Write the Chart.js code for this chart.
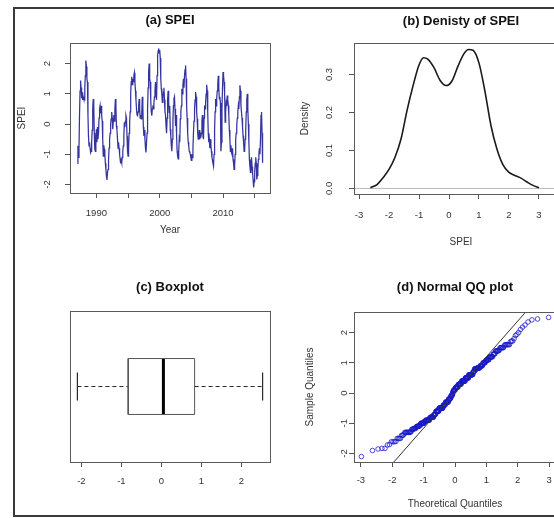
<!DOCTYPE html>
<html>
<head>
<meta charset="utf-8">
<script src="https://cdn.jsdelivr.net/npm/chart.js@4/dist/chart.umd.min.js"></script>
<style>
  html, body { margin: 0; padding: 0; background: #fff; }
  body { position: relative; width: 554px; height: 518px; overflow: hidden; }
  #frame { position: absolute; left: 13px; top: 7px; width: 620px; height: 510px;
           border: 2px solid #3a3a3a; box-sizing: border-box; }
  canvas { position: absolute; }
</style>
</head>
<body>
<div id="frame"></div>
<canvas id="cA" width="277" height="259" style="left:0px;top:0px"></canvas>
<canvas id="cB" width="320" height="259" style="left:277px;top:0px"></canvas>
<canvas id="cC" width="277" height="259" style="left:0px;top:259px"></canvas>
<canvas id="cD" width="320" height="259" style="left:277px;top:259px"></canvas>
<script>
// ---- data -------------------------------------------------------------
// Monthly SPEI, January 1987 onwards (one row per year)
const startYear = 1987;
const spei = [
  -1.30,-0.72,-1.10,-0.80, 0.30, 1.10, 1.44, 1.20, 0.85, 1.05, 0.80, 0.90,
   0.83, 0.80, 1.20, 1.60, 2.10, 1.90, 1.50, 1.39, 0.30,-0.40,-0.72,-0.60,
  -0.80,-0.94,-0.90,-0.61,-0.20, 0.50, 0.83, 0.60,-0.30,-0.83,-0.90,-0.60,
  -0.17,-0.60,-0.10,-0.50,-0.30, 0.20, 0.50, 0.61, 0.35, 0.60, 0.28, 0.10,
  -0.50,-1.06,-0.70,-0.83,-1.00,-1.30,-1.50,-1.72,-1.85,-1.61,-1.50,-1.20,
  -0.80,-0.50,-0.30, 0.00, 0.17, 0.40, 0.20,-0.17, 0.10, 0.30, 0.10, 0.50,
   0.83, 0.60,-0.06,-0.20,-0.50,-0.80,-0.60,-0.80,-1.00,-1.17,-1.30,-1.20,
  -1.28,-1.10,-0.90,-0.72,-0.40, 0.06,-0.10, 0.10, 0.28, 0.20,-0.40,-0.90,
  -1.06,-0.80,-0.30, 0.06, 0.40, 1.00, 1.40, 1.56, 1.30, 1.50, 1.40, 1.60,
   1.70, 1.40, 1.10, 0.80, 0.50, 0.30, 0.28, 0.40, 0.60, 0.83, 0.50, 0.20,
   0.30, 0.17, 0.40, 0.90, 0.60,-0.10,-0.39,-0.20,-0.50,-0.80,-0.94,-0.60,
  -0.30, 0.50, 1.20, 1.72, 2.00, 1.50, 1.39, 0.80, 0.40, 0.28, 0.50, 0.61,
   0.50, 0.70, 0.90, 1.10, 1.39, 1.00, 0.80, 1.60, 2.25, 2.42, 2.50, 2.35,
   2.45, 2.18, 1.50, 1.17, 1.00, 0.72, 0.90, 1.06, 1.20, 0.80, 0.40, 0.30,
  -0.06,-0.30, 0.20, 0.83, 1.10, 0.70, 0.39, 0.60,-0.17,-0.40,-0.72,-0.90,
  -0.50, 0.10, 0.60, 0.83, 0.90, 0.50,-0.06, 0.30,-0.40,-0.90,-1.06,-1.15,
  -0.90,-0.50,-0.60, 0.17, 0.40, 0.60, 1.17, 1.00, 1.30, 1.50, 1.20, 1.60,
   1.80, 1.94, 1.50, 0.61, 0.20,-0.30,-0.60,-0.72,-0.90,-0.94,-1.00,-1.11,
  -1.20,-1.00,-1.11,-0.80,-0.28, 0.10, 0.50, 0.80, 1.06, 0.90, 0.40, 0.17,
  -0.30,-0.50,-0.40,-0.20,-0.50,-0.35,-0.45,-0.30, 0.10, 0.30,-0.40,-0.50,
   0.20, 0.61, 0.50, 0.72, 1.00, 1.30, 1.10, 0.40,-0.30,-0.60,-0.50,-0.80,
  -0.50,-0.70,-0.90,-1.10,-1.20,-1.30,-1.39,-1.00,-0.20, 0.40, 0.83, 0.60,
   0.83, 1.10, 1.28, 1.60, 1.20, 0.83, 0.90, 0.70,-0.90,-0.60, 0.50, 1.20,
   1.72, 1.60, 1.39, 1.00, 0.06, 0.40, 0.70, 0.60, 0.94, 0.80, 0.61, 0.30,
  -0.20,-0.50,-0.90,-0.70,-0.94,-1.00,-0.80,-1.17,-1.30,-1.50,-1.35,-1.00,
  -0.50,-0.30,-0.06, 0.20, 0.40, 0.61, 0.50, 0.90, 1.28, 1.10, 0.60, 0.39,
   0.20,-0.10,-0.39,-0.60,-0.90,-0.83,-0.50,-0.20, 0.40, 0.80, 1.00, 0.50,
   0.00,-0.60,-1.17,-1.40,-1.60,-1.30,-1.10,-1.40,-1.61,-1.83,-2.10,-1.90,
  -1.61,-1.30,-1.10,-1.30,-1.83,-1.70,-1.50,-1.17,-1.00,-0.80,-1.00,-0.50,
   0.28, 0.40,-0.30,-1.28
];

// Kernel density estimate of SPEI
const densityX = [-2.62,-2.4,-2.2,-2.0,-1.8,-1.6,-1.4,-1.2,-1.0,-0.85,-0.7,-0.5,-0.3,-0.1,
                   0.1, 0.3, 0.5, 0.65, 0.8, 1.0, 1.2, 1.4, 1.6, 1.8, 2.0, 2.2, 2.4, 2.6, 2.8, 3.0];
const densityY = [0.002,0.010,0.028,0.050,0.082,0.130,0.205,0.270,0.325,0.344,0.340,0.318,0.285,0.271,
                  0.283,0.322,0.355,0.366,0.364,0.330,0.255,0.165,0.103,0.062,0.042,0.034,0.027,0.017,0.008,0.002];

// Boxplot five-number summary: min, lower hinge, median, upper hinge, max
const boxStats = [-2.10, -0.83, 0.05, 0.83, 2.53];

// Reference line of the QQ plot: intercept, slope
const qqLine = [0.02, 1.18];

// Tick values and labels
const yearTicks  = [1990, 1995, 2000, 2005, 2010, 2015];
const yearLabels = ['1990', '', '2000', '', '2010', ''];
const speiTicks  = [-2, -1, 0, 1, 2];
const speiLabels = ['-2', '-1', '0', '1', '2'];
const densXTicks  = [-3, -2, -1, 0, 1, 2, 3];
const densXLabels = ['-3', '-2', '-1', '0', '1', '2', '3'];
const densYTicks  = [0.0, 0.1, 0.2, 0.3];
const densYLabels = ['0.0', '0.1', '0.2', '0.3'];
const qqXTicks  = [-3, -2, -1, 0, 1, 2, 3];
const qqXLabels = ['-3', '-2', '-1', '0', '1', '2', '3'];

// ---- helpers ----------------------------------------------------------
const FONT = "'Liberation Sans', Arial, Helvetica, sans-serif";
Chart.defaults.font.family = FONT;

// Inverse standard normal CDF (Acklam's rational approximation)
function qnorm(p) {
  const a = [-3.969683028665376e+01, 2.209460984245205e+02, -2.759285104469687e+02,
              1.383577518672690e+02, -3.066479806614716e+01, 2.506628277459239e+00];
  const b = [-5.447609879822406e+01, 1.615858368580409e+02, -1.556989798598866e+02,
              6.680131188771972e+01, -1.328068155288572e+01];
  const c = [-7.784894002430293e-03, -3.223964580411365e-01, -2.400758277161838e+00,
             -2.549671010229528e+00, 4.374664141464968e+00, 2.938163982698783e+00];
  const d = [7.784695709041462e-03, 3.224671290700398e-01, 2.445134137142996e+00,
             3.754408661907416e+00];
  const plow = 0.02425;
  if (p < plow) {
    const q = Math.sqrt(-2 * Math.log(p));
    return (((((c[0]*q+c[1])*q+c[2])*q+c[3])*q+c[4])*q+c[5]) / ((((d[0]*q+d[1])*q+d[2])*q+d[3])*q+1);
  }
  if (p > 1 - plow) {
    const q = Math.sqrt(-2 * Math.log(1 - p));
    return -(((((c[0]*q+c[1])*q+c[2])*q+c[3])*q+c[4])*q+c[5]) / ((((d[0]*q+d[1])*q+d[2])*q+d[3])*q+1);
  }
  const q = p - 0.5, r = q * q;
  return (((((a[0]*r+a[1])*r+a[2])*r+a[3])*r+a[4])*r+a[5])*q /
         (((((b[0]*r+b[1])*r+b[2])*r+b[3])*r+b[4])*r+1);
}

// Box drawn around each plotting region
const plotFrame = {
  id: 'plotFrame',
  afterDraw(chart) {
    const { ctx, chartArea: a } = chart;
    ctx.save();
    ctx.strokeStyle = '#5a5a5a';
    ctx.lineWidth = 1;
    ctx.strokeRect(Math.round(a.left) + 0.5, Math.round(a.top) + 0.5,
                   Math.round(a.right - a.left), Math.round(a.bottom - a.top));
    ctx.restore();
  }
};

function axis(o) {
  const vertical = o.position === 'left';
  return {
    type: 'linear',
    position: o.position,
    min: o.min, max: o.max,
    afterBuildTicks: s => { s.ticks = o.ticks.map(v => ({ value: v })); },
    afterFit: s => { if (vertical) s.width = o.size; else s.height = o.size; },
    ticks: {
      autoSkip: false,
      callback: (v, i) => o.labels[i],
      font: { family: FONT, size: 9.5 },
      color: '#333',
      padding: o.labelPad,
      minRotation: vertical ? 90 : 0,
      maxRotation: vertical ? 90 : 0,
      crossAlign: vertical ? 'center' : 'near'
    },
    grid: { display: true, drawOnChartArea: false, drawTicks: true,
            tickLength: 5, tickColor: '#555', tickWidth: 1 },
    border: { display: false },
    title: o.title ? {
      display: true, text: o.title, color: '#333',
      font: { family: FONT, size: 10 },
      padding: vertical ? { top: o.titlePad, bottom: 0 } : { top: 0, bottom: o.titlePad }
    } : { display: false }
  };
}

function baseOptions(title, titleTop, titleBottom, padding, scales) {
  return {
    responsive: false, animation: false, devicePixelRatio: 1, events: [],
    layout: { padding },
    plugins: {
      legend: { display: false },
      tooltip: { enabled: false },
      title: {
        display: true, text: title, fullSize: false, color: '#111',
        font: { family: FONT, size: 13, weight: 'bold' },
        padding: { top: titleTop, bottom: titleBottom }
      }
    },
    scales
  };
}

// ---- (a) time series ----------------------------------------------------
const seriesPoints = spei.map((v, i) => ({ x: startYear + i / 12, y: v }));

new Chart(document.getElementById('cA'), {
  type: 'scatter',
  data: { datasets: [{
    data: seriesPoints, showLine: true, pointRadius: 0,
    borderColor: '#34349e', borderWidth: 1.25, tension: 0
  }] },
  options: baseOptions('(a) SPEI', 12.2, 15.2, { left: 0, right: 7, top: 0, bottom: 0 }, {
    x: axis({ position: 'bottom', min: 1985.83, max: 2017.42, ticks: yearTicks, labels: yearLabels,
              size: 66, labelPad: 9.3, title: 'Year', titlePad: 23 }),
    y: axis({ position: 'left', min: -2.28, max: 2.68, ticks: speiTicks, labels: speiLabels,
              size: 70, labelPad: 13.8, title: 'SPEI', titlePad: 16 })
  }),
  plugins: [plotFrame]
});

// ---- (b) density --------------------------------------------------------
const densXMin = -3.167, densXMax = 3.967;
new Chart(document.getElementById('cB'), {
  type: 'scatter',
  data: { datasets: [
    { data: densityX.map((x, i) => ({ x, y: densityY[i] })), showLine: true, pointRadius: 0,
      borderColor: '#1a1a1a', borderWidth: 1.6, cubicInterpolationMode: 'monotone', order: 0 },
    { data: [{ x: densXMin, y: 0 }, { x: densXMax, y: 0 }], showLine: true, pointRadius: 0,
      borderColor: '#b8b8b8', borderWidth: 1, order: 1 }
  ] },
  options: baseOptions('(b) Denisty of SPEI', 13.2, 14.2, { left: 0, right: 29, top: 0, bottom: 0 }, {
    x: axis({ position: 'bottom', min: densXMin, max: densXMax, ticks: densXTicks, labels: densXLabels,
              size: 65, labelPad: 10.3, title: 'SPEI', titlePad: 11 }),
    y: axis({ position: 'left', min: -0.0147, max: 0.383, ticks: densYTicks, labels: densYLabels,
              size: 77, labelPad: 13.4, title: 'Density', titlePad: 22 })
  }),
  plugins: [plotFrame]
});

// ---- (c) boxplot --------------------------------------------------------
const [bMin, bQ1, bMed, bQ3, bMax] = boxStats;
const boxHalf = 0.2, stapleHalf = 0.1, boxCentre = 1;
const seg = (pts, extra) => Object.assign({
  data: pts.map(([x, y]) => ({ x, y })), showLine: true, pointRadius: 0,
  borderColor: '#2a2a2a', borderWidth: 1
}, extra || {});

new Chart(document.getElementById('cC'), {
  type: 'scatter',
  data: { datasets: [
    seg([[bQ1, boxCentre - boxHalf], [bQ3, boxCentre - boxHalf], [bQ3, boxCentre + boxHalf],
         [bQ1, boxCentre + boxHalf], [bQ1, boxCentre - boxHalf]], { borderColor: '#555' }),
    seg([[bMed, boxCentre - boxHalf], [bMed, boxCentre + boxHalf]], { borderColor: '#000', borderWidth: 3 }),
    seg([[bMin, boxCentre], [bQ1, boxCentre]], { borderDash: [4, 3], borderWidth: 1.2 }),
    seg([[bQ3, boxCentre], [bMax, boxCentre]], { borderDash: [4, 3], borderWidth: 1.2 }),
    seg([[bMin, boxCentre - stapleHalf], [bMin, boxCentre + stapleHalf]], { borderWidth: 1.2 }),
    seg([[bMax, boxCentre - stapleHalf], [bMax, boxCentre + stapleHalf]], { borderWidth: 1.2 })
  ] },
  options: baseOptions('(c) Boxplot', 20.5, 15.9, { left: 70, right: 7, top: 0, bottom: 0 }, {
    x: axis({ position: 'bottom', min: -2.285, max: 2.715, ticks: speiTicks, labels: speiLabels,
              size: 56, labelPad: 9 }),
    y: { type: 'linear', display: false, min: 0.46, max: 1.54 }
  }),
  plugins: [plotFrame]
});

// ---- (d) normal QQ plot -------------------------------------------------
const sorted = spei.slice().sort((p, q) => p - q);
const n = sorted.length;
const qqPoints = sorted.map((v, i) => ({ x: qnorm((i + 0.5) / n), y: v }));
const qqXMin = -3.22, qqXMax = 3.22;

new Chart(document.getElementById('cD'), {
  type: 'scatter',
  data: { datasets: [
    { data: [{ x: qqXMin, y: qqLine[0] + qqLine[1] * qqXMin }, { x: qqXMax, y: qqLine[0] + qqLine[1] * qqXMax }],
      showLine: true, pointRadius: 0, borderColor: '#333', borderWidth: 1, order: 0 },
    { data: qqPoints, pointRadius: 2.3, pointStyle: 'circle', backgroundColor: 'rgba(0,0,0,0)',
      borderColor: 'rgba(25,25,200,0.85)', borderWidth: 0.9, order: 1 }
  ] },
  options: baseOptions('(d) Normal QQ plot', 20.2, 17.2, { left: 0, right: 41, top: 0, bottom: 0 }, {
    x: axis({ position: 'bottom', min: qqXMin, max: qqXMax, ticks: qqXTicks, labels: qqXLabels,
              size: 56, labelPad: 8, title: 'Theoretical Quantiles', titlePad: 8 }),
    y: axis({ position: 'left', min: -2.28, max: 2.68, ticks: speiTicks, labels: speiLabels,
              size: 77, labelPad: 0, title: 'Sample Quantiles', titlePad: 27 })
  }),
  plugins: [plotFrame]
});
</script>
</body>
</html>
